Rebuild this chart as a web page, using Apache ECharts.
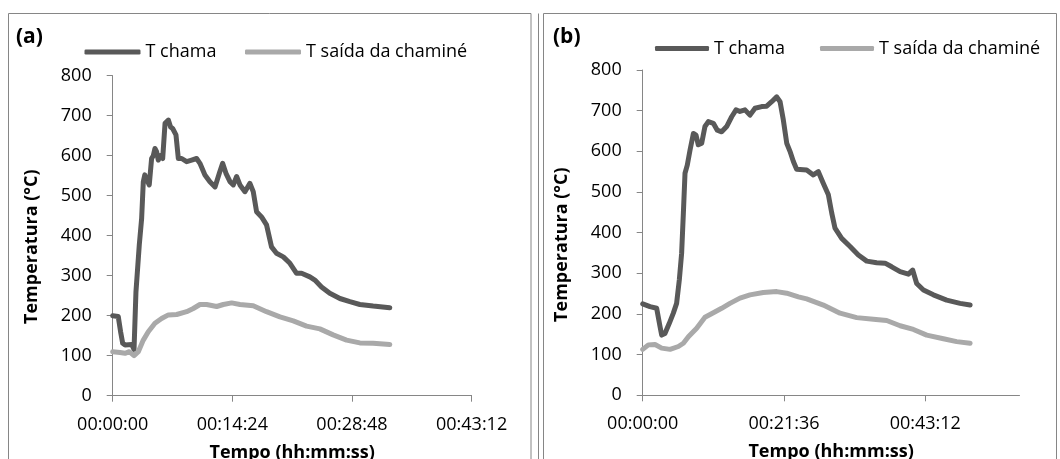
<!DOCTYPE html>
<html>
<head>
<meta charset="utf-8">
<script src="https://cdn.jsdelivr.net/npm/echarts@6/dist/echarts.min.js"></script>
<style>
  html, body { margin: 0; padding: 0; background: #fff; }
  #chart { width: 1060px; height: 459px; }
</style>
</head>
<body>
<div id="chart"></div>
<script>
// Panel titles and series names
const panelTitles = ['(a)', '(b)'];
const seriesNames = ['T chama', 'T saída da chaminé'];
const xName = 'Tempo (hh:mm:ss)';
const yName = 'Temperatura (°C)';

// Time axes in seconds (Excel day fractions: 0.01 d = 864 s, 0.015 d = 1296 s)
const xMaxA = 2592, xStepA = 864;
const xMaxB = 3456, xStepB = 1296;
const xTicksA = [0, 864, 1728, 2592];
const xTicksB = [0, 1296, 2592];
const yMin = 0, yMax = 800, yStep = 100;

// (a) flame temperature [s, °C]
const chamaA = [
  [0,200],[40,198],[57,160],[72,131],[89,127],[137,128],[154,116],[168,260],[192,377],
  [209,443],[221,535],[232,552],[240,545],[252,550],[264,527],[281,593],[293,600],
  [305,618],[317,610],[329,589],[345,600],[361,593],[378,681],[402,689],[418,672],
  [433,668],[457,652],[474,593],[498,593],[534,585],[570,589],[606,593],[630,581],
  [666,552],[702,535],[739,522],[770,556],[794,581],[818,556],[847,535],[871,527],
  [895,548],[919,527],[955,510],[991,531],[1015,510],[1039,460],[1075,447],[1111,427],
  [1147,372],[1183,356],[1232,347],[1280,331],[1328,306],[1364,306],[1424,297],
  [1460,289],[1508,272],[1568,256],[1641,243],[1713,235],[1785,228],[1881,224],[2001,220]
];
// (a) chimney outlet temperature [s, °C]
const saidaA = [
  [0,110],[53,108],[89,106],[120,110],[154,100],[185,110],[221,139],[257,160],[305,181],
  [353,193],[402,202],[462,203],[534,210],[582,218],[630,228],[678,228],[751,223],
  [799,228],[859,232],[919,228],[1015,225],[1111,210],[1208,197],[1304,187],[1400,174],
  [1496,167],[1592,152],[1689,139],[1785,132],[1881,131],[2001,128]
];
// (b) flame temperature [s, °C]
const chamaB = [
  [0,225],[67,218],[128,214],[159,169],[174,148],[204,152],[244,177],[281,202],[311,226],
  [336,284],[357,349],[373,448],[388,546],[409,566],[434,603],[465,644],[489,640],
  [510,616],[541,620],[571,661],[602,673],[648,669],[684,652],[724,648],[770,661],
  [816,685],[856,702],[892,698],[938,702],[984,689],[1030,706],[1091,710],[1137,711],
  [1183,722],[1229,734],[1260,722],[1290,677],[1321,620],[1351,600],[1382,575],
  [1412,556],[1504,554],[1565,542],[1611,550],[1657,521],[1703,493],[1734,448],
  [1764,411],[1825,386],[1902,366],[1978,345],[2055,330],[2146,326],[2223,325],
  [2284,316],[2361,304],[2437,298],[2476,308],[2513,275],[2575,259],[2666,247],
  [2788,234],[2911,226],[3003,222]
];
// (b) chimney outlet temperature [s, °C]
const saidaB = [
  [0,113],[52,124],[113,125],[174,116],[251,113],[327,120],[373,128],[419,144],[495,165],
  [571,192],[648,203],[724,214],[800,226],[892,239],[984,247],[1106,253],[1229,255],
  [1321,251],[1428,242],[1504,237],[1657,222],[1810,202],[1963,191],[2116,187],
  [2238,184],[2361,171],[2483,162],[2605,148],[2758,139],[2880,132],[3003,128]
];

const FONT = '"Open Sans", "DejaVu Sans", sans-serif';
const FS = 18;
const AXIS_COLOR = '#868686';
const DARK = '#595959';
const LIGHT = '#a9a9a9';

function hms(v) {
  const s = Math.round(v);
  const h = Math.floor(s / 3600), m = Math.floor((s % 3600) / 60), sec = s % 60;
  const p = n => (n < 10 ? '0' : '') + n;
  return p(h) + ':' + p(m) + ':' + p(sec);
}

function makeX(gridIndex, max, interval, ticks) {
  return {
    type: 'value', gridIndex, min: 0, max, interval,
    name: xName, nameLocation: 'middle', nameGap: 48,
    nameTextStyle: { fontFamily: FONT, fontSize: FS, fontWeight: 'bold', color: '#000' },
    axisLine: { show: true, lineStyle: { color: AXIS_COLOR, width: 1 } },
    axisTick: { show: true, length: 6, customValues: ticks, lineStyle: { color: AXIS_COLOR } },
    axisLabel: { customValues: ticks, formatter: hms, margin: 20, fontFamily: FONT, fontSize: FS, color: '#000' },
    splitLine: { show: false }
  };
}

function makeY(gridIndex, padShift) {
  return {
    type: 'value', gridIndex, min: yMin, max: yMax, interval: yStep,
    name: yName, nameLocation: 'middle', nameGap: 72, nameRotate: 90,
    nameTextStyle: { fontFamily: FONT, fontSize: FS, fontWeight: 'bold', color: '#000', padding: [0, padShift, 0, 0] },
    axisLine: { show: true, lineStyle: { color: AXIS_COLOR, width: 1 } },
    axisTick: { show: true, length: 6, lineStyle: { color: AXIS_COLOR } },
    axisLabel: { margin: 21, fontFamily: FONT, fontSize: FS, color: '#000' },
    splitLine: { show: false }
  };
}

function makeSeries(name, data, idx, color) {
  return {
    type: 'line', name, data, xAxisIndex: idx, yAxisIndex: idx,
    showSymbol: false, symbol: 'none', smooth: false, color,
    lineStyle: { color, width: 5, cap: 'round', join: 'round' },
    itemStyle: { color },
    emphasis: { disabled: true },
    animation: false
  };
}

function makeLegend(name, left, top, width) {
  return {
    data: [name], left, top, orient: 'horizontal',
    icon: 'roundRect', itemWidth: width, itemHeight: 5, padding: 0,
    selectedMode: false,
    textStyle: { fontFamily: FONT, fontSize: FS, color: '#000' }
  };
}

const chart = echarts.init(document.getElementById('chart'), null, { renderer: 'canvas' });

chart.setOption({
  backgroundColor: '#fff',
  animation: false,
  title: [
    { text: panelTitles[0], left: 16, top: 27, padding: 0, textStyle: { fontFamily: FONT, fontSize: 21, fontWeight: 'bold', color: '#000' } },
    { text: panelTitles[1], left: 553, top: 27, padding: 0, textStyle: { fontFamily: FONT, fontSize: 21, fontWeight: 'bold', color: '#000' } }
  ],
  legend: [
    makeLegend(seriesNames[0], 84.5, 43, 56),
    makeLegend(seriesNames[1], 245, 43, 56),
    makeLegend(seriesNames[0], 655, 39.5, 54),
    makeLegend(seriesNames[1], 820, 39.5, 54)
  ],
  grid: [
    { left: 112.7, top: 75.7, width: 358.9, height: 320, containLabel: false, outerBoundsMode: 'none' },
    { left: 642.7, top: 70, width: 376.8, height: 325.3, containLabel: false, outerBoundsMode: 'none' }
  ],
  xAxis: [makeX(0, xMaxA, xStepA, xTicksA), makeX(1, xMaxB, xStepB, xTicksB)],
  yAxis: [makeY(0, 22), makeY(1, 24)],
  series: [
    makeSeries(seriesNames[0], chamaA, 0, DARK),
    makeSeries(seriesNames[1], saidaA, 0, LIGHT),
    makeSeries(seriesNames[0], chamaB, 1, DARK),
    makeSeries(seriesNames[1], saidaB, 1, LIGHT)
  ],
  graphic: [
    { type: 'rect', silent: true, shape: { x: 8.5, y: 13.5, width: 522.5, height: 470 }, style: { fill: 'none', stroke: AXIS_COLOR, lineWidth: 1 } },
    { type: 'line', silent: true, shape: { x1: 538.5, y1: 13.5, x2: 538.5, y2: 480 }, style: { stroke: AXIS_COLOR, lineWidth: 1 } },
    { type: 'rect', silent: true, shape: { x: 543.5, y: 13.5, width: 513, height: 470 }, style: { fill: 'none', stroke: AXIS_COLOR, lineWidth: 1 } }
  ]
});
</script>
</body>
</html>
